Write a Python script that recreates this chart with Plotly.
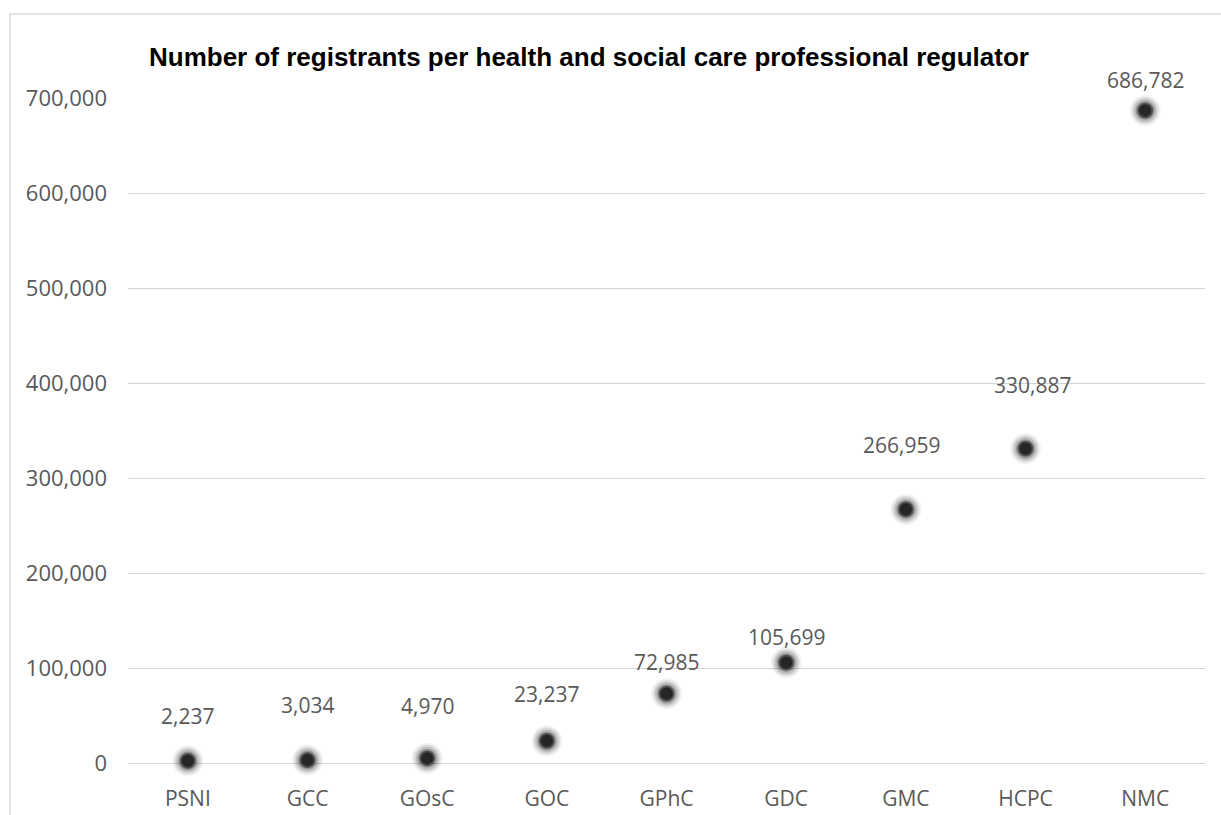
import plotly.graph_objects as go

categories = ["PSNI", "GCC", "GOsC", "GOC", "GPhC", "GDC", "GMC", "HCPC", "NMC"]
registrants = [2237, 3034, 4970, 23237, 72985, 105699, 266959, 330887, 686782]
label_text = ["2,237", "3,034", "4,970", "23,237", "72,985", "105,699", "266,959", "330,887", "686,782"]
tick_vals = [0, 100000, 200000, 300000, 400000, 500000, 600000, 700000]
tick_text = ["0", "100,000", "200,000", "300,000", "400,000", "500,000", "600,000", "700,000"]
title_text = "Number of registrants per health and social care professional regulator"

# label offsets in pixels (style only)
label_yshift = [45, 55, 52, 47, 32, 26, 64, 64, 31]
label_xshift = [0, 0, 0, 0, 0, 0, -4, 7, 0]

W, H = 1221, 815
L, R, T, B = 128, 16, 98, 52
pw, ph = W - L - R, H - T - B

fig = go.Figure()
# glow layers
for size, col in [(31, "rgba(0,0,0,0.05)"), (27, "rgba(0,0,0,0.09)"), (23, "rgba(0,0,0,0.14)"), (19, "rgba(0,0,0,0.22)")]:
    fig.add_trace(go.Scatter(x=categories, y=registrants, mode="markers",
                             marker=dict(size=size, color=col, line=dict(width=0)),
                             hoverinfo="skip", showlegend=False, cliponaxis=False))
fig.add_trace(go.Scatter(x=categories, y=registrants, mode="markers",
                         marker=dict(size=14, color="#262626", line=dict(width=1.8, color="#505050")),
                         showlegend=False, cliponaxis=False))

for c, v, t, ys, xs in zip(categories, registrants, label_text, label_yshift, label_xshift):
    fig.add_annotation(x=c, y=v, text=t, showarrow=False, yshift=ys, xshift=xs,
                       font=dict(family="Open Sans", size=21, color="#595959"))

fig.add_annotation(xref="paper", yref="paper", x=(147 - L) / pw, y=(H - B - 57) / ph,
                   xanchor="left", yanchor="middle", text="<b>" + title_text + "</b>",
                   showarrow=False, font=dict(family="Liberation Sans, Arial", size=26, color="#000000"))

# outer chart border (top and left visible)
fig.add_shape(type="rect", xref="paper", yref="paper",
              x0=(10 - L) / pw, x1=(W + 20 - L) / pw,
              y0=(H - B - (H + 20)) / ph, y1=(H - B - 14) / ph,
              line=dict(color="#d9d9d9", width=1.5), fillcolor="rgba(0,0,0,0)", layer="below")

fig.update_layout(
    width=W, height=H,
    margin=dict(l=L, r=R, t=T, b=B, autoexpand=False),
    paper_bgcolor="white", plot_bgcolor="white",
    showlegend=False,
    xaxis=dict(type="category", range=[-0.5, 8.5], showgrid=False, showline=False, zeroline=False,
               tickfont=dict(family="Open Sans", size=21, color="#595959"), ticks="",
               ticklabelstandoff=21, fixedrange=True, automargin=False),
    yaxis=dict(range=[0, 700000], tickvals=tick_vals, ticktext=tick_text,
               showgrid=True, gridcolor="#d4d4d4", gridwidth=1.3,
               zeroline=True, zerolinecolor="#d4d4d4", zerolinewidth=1.3,
               showline=False, ticks="", ticklabelstandoff=20, automargin=False,
               tickfont=dict(family="Open Sans", size=22, color="#595959"), fixedrange=True),
)

fig.write_html("out.html")
